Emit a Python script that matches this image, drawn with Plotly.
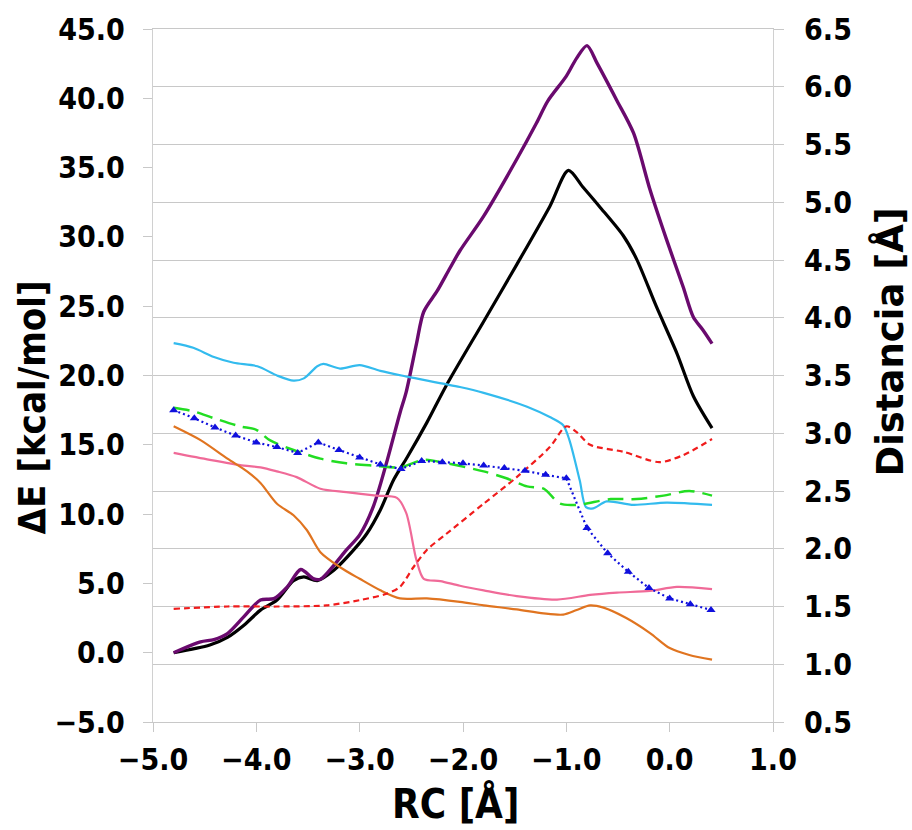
import plotly.graph_objects as go

# ---------------- data ----------------
# Energies (left axis, kcal/mol)
purple_x = [-4.8, -4.54, -4.41, -4.28, -4.12, -3.96, -3.83, -3.70, -3.57, -3.45, -3.38, -3.25, -3.13, -3.0,
            -2.87, -2.74, -2.61, -2.55, -2.45, -2.38, -2.25, -2.13, -2.03, -1.80, -1.48, -1.29, -1.18, -1.0,
            -0.90, -0.80, -0.70, -0.515, -0.35, -0.19, -0.03, 0.13, 0.23, 0.32, 0.41]
purple_e = [0, 0.78, 0.95, 1.38, 2.6, 3.8, 3.9, 4.75, 6.0, 5.35, 5.3, 6.3, 7.4, 8.5,
            10.5, 13.7, 17.3, 18.8, 22.3, 24.6, 26.1, 27.7, 29.0, 31.5, 35.6, 38.2, 39.8, 41.6,
            42.9, 43.8, 42.5, 39.9, 37.5, 33.4, 29.8, 26.4, 24.2, 23.3, 22.3]

black_x = [-4.8, -4.45, -4.28, -4.12, -3.96, -3.80, -3.64, -3.54, -3.41, -3.25, -3.06, -2.93, -2.80, -2.67,
           -2.54, -2.35, -2.16, -1.80, -1.48, -1.16, -0.98, -0.84, -0.68, -0.45, -0.32, -0.13, 0.07, 0.23, 0.41]
black_e = [0, 0.55, 1.1, 1.98, 3.07, 3.8, 5.2, 5.47, 5.2, 5.95, 7.4, 8.6, 10.3, 12.5,
           14.1, 16.6, 19.3, 23.9, 28.0, 32.2, 34.8, 33.6, 32.2, 30.1, 28.4, 25.0, 21.6, 18.5, 16.2]

# Distances (right axis, Angstrom)
cyan_x = [-4.8, -4.61, -4.41, -4.22, -3.99, -3.80, -3.64, -3.54, -3.41, -3.35, -3.19, -3.0, -2.80, -2.54,
          -2.03, -1.80, -1.38, -1.16, -1.03, -0.97, -0.87, -0.81, -0.74, -0.61, -0.35, -0.03, 0.41]
cyan_d = [3.78, 3.74, 3.66, 3.61, 3.58, 3.50, 3.455, 3.475, 3.58, 3.60, 3.56, 3.59, 3.54, 3.49,
          3.40, 3.35, 3.23, 3.14, 3.07, 2.94, 2.59, 2.36, 2.35, 2.41, 2.38, 2.40, 2.38]

green_x = [-4.8, -4.61, -4.41, -4.16, -4.0, -3.87, -3.64, -3.38, -3.13, -2.87, -2.61, -2.38, -2.16, -1.80,
           -1.58, -1.38, -1.22, -1.06, -0.90, -0.57, -0.32, -0.06, 0.19, 0.41]
green_d = [3.22, 3.19, 3.13, 3.06, 3.03, 2.94, 2.855, 2.78, 2.74, 2.72, 2.705, 2.77, 2.74, 2.67,
           2.61, 2.54, 2.52, 2.39, 2.38, 2.43, 2.43, 2.46, 2.50, 2.46]

blue_x = [-4.8, -4.6, -4.4, -4.2, -4.0, -3.8, -3.6, -3.4, -3.2, -3.0, -2.8, -2.6, -2.4, -2.2,
          -2.0, -1.8, -1.6, -1.4, -1.2, -1.0, -0.8, -0.6, -0.4, -0.2, 0.0, 0.2, 0.4]
blue_d = [3.20, 3.13, 3.05, 2.98, 2.92, 2.88, 2.83, 2.92, 2.855, 2.79, 2.73, 2.69, 2.76, 2.75,
          2.74, 2.72, 2.70, 2.675, 2.64, 2.61, 2.18, 1.96, 1.80, 1.66, 1.57, 1.52, 1.47]

red_x = [-4.8, -4.28, -3.8, -3.32, -3.0, -2.74, -2.61, -2.48, -2.35, -2.16, -1.80, -1.48, -1.16, -1.0,
         -0.90, -0.77, -0.45, -0.10, 0.13, 0.41]
red_d = [1.48, 1.50, 1.50, 1.51, 1.555, 1.61, 1.67, 1.84, 1.99, 2.13, 2.39, 2.62, 2.88, 3.06,
         3.01, 2.90, 2.84, 2.75, 2.81, 2.95]

pink_x = [-4.8, -4.45, -4.12, -3.96, -3.80, -3.61, -3.38, -3.13, -2.84, -2.64, -2.55, -2.45, -2.38, -2.22,
          -2.03, -1.80, -1.48, -1.09, -0.77, -0.51, -0.19, 0.07, 0.41]
pink_d = [2.83, 2.77, 2.72, 2.705, 2.67, 2.62, 2.52, 2.49, 2.46, 2.44, 2.31, 1.90, 1.74, 1.72,
          1.68, 1.64, 1.59, 1.56, 1.60, 1.62, 1.635, 1.67, 1.65]

orange_x = [-4.8, -4.54, -4.28, -4.09, -3.96, -3.80, -3.64, -3.51, -3.38, -3.19, -3.0, -2.80, -2.61, -2.35,
            -2.03, -1.80, -1.48, -1.22, -1.03, -0.90, -0.77, -0.64, -0.42, -0.19, 0.0, 0.19, 0.41]
orange_d = [3.06, 2.94, 2.78, 2.67, 2.57, 2.39, 2.29, 2.16, 1.97, 1.84, 1.74, 1.64, 1.57, 1.57,
            1.54, 1.51, 1.475, 1.44, 1.43, 1.47, 1.51, 1.49, 1.40, 1.27, 1.14, 1.08, 1.04]

x_title = "RC [Å]"
y_title = "ΔE [kcal/mol]"
y2_title = "Distancia [Å]"

# ---------------- figure ----------------
FONT = "Liberation Sans Narrow, Arial Narrow, DejaVu Sans Condensed, Liberation Sans, Arial, sans-serif"
WIDE_FONT = "DejaVu Sans, Verdana, Liberation Sans, Arial, sans-serif"
fig = go.Figure()

def add_line(x, y, color, width, dash="solid", axis="y2", shape="spline", marker=None):
    kw = dict(x=x, y=y, mode="lines", yaxis=axis, showlegend=False, hoverinfo="skip",
              line=dict(color=color, width=width, dash=dash, shape=shape, smoothing=0.8))
    if marker:
        kw["mode"] = "lines+markers"
        kw["marker"] = marker
    fig.add_trace(go.Scatter(**kw))

add_line(cyan_x, cyan_d, "#33bbee", 2.2)
add_line(pink_x, pink_d, "#f06a98", 2.2)
add_line(orange_x, orange_d, "#e07420", 2.2)
add_line(red_x, red_d, "#f01c1c", 2.2, dash="6px,4px")
add_line(green_x, green_d, "#22dd22", 2.5, dash="16px,8px")
add_line(blue_x, blue_d, "#1010dd", 2.2, dash="2px,3px", shape="linear",
         marker=dict(symbol="triangle-up", size=8, color="#1010dd"))
add_line(black_x, black_e, "#000000", 3.2, axis="y")
add_line(purple_x, purple_e, "#6a0a6e", 3.4, axis="y")

L, R, T, B = 152.7, 773.3, 29.3, 721.7
W, H = 912, 830
pw, ph = R - L, B - T

tickfont = dict(family=FONT, size=30, color="black", weight="bold")
titlefont = dict(family=FONT, size=40, color="black", weight="bold")

fig.update_layout(
    width=W, height=H,
    margin=dict(l=L, r=W - R, t=T, b=H - B, pad=0, autoexpand=False),
    paper_bgcolor="white", plot_bgcolor="white",
    xaxis=dict(range=[-5, 1], dtick=1, tick0=-5, tickformat=".1f", showgrid=False, zeroline=False,
               showline=True, mirror=True, linecolor="#c8c8c8", linewidth=1.2,
               ticks="outside", ticklen=9, tickcolor="#c8c8c8", tickfont=tickfont,
               ticklabelstandoff=2, automargin=False),
    yaxis=dict(range=[-5, 45], dtick=5, tick0=-5, tickformat=".1f", showgrid=False, zeroline=False,
               showline=True, linecolor="#d0d0d0", linewidth=1.2,
               ticks="outside", ticklen=9, tickcolor="#c8c8c8", tickfont=tickfont,
               ticklabelstandoff=12, automargin=False),
    yaxis2=dict(range=[0.5, 6.5], dtick=0.5, tick0=0.5, tickformat=".1f", overlaying="y", side="right",
                showgrid=True, gridcolor="#c8c8c8", gridwidth=1.2, zeroline=False,
                showline=True, linecolor="#d0d0d0", linewidth=1.2,
                ticks="outside", ticklen=10, tickcolor="#c8c8c8", tickfont=tickfont,
                ticklabelstandoff=14, automargin=False),
)

def px_to_paper(px, py):
    return (px - L) / pw, (B - py) / ph

ax, ay = px_to_paper(455, 803)
fig.add_annotation(text=x_title, x=ax, y=ay, xref="paper", yref="paper", showarrow=False,
                   xanchor="center", yanchor="middle", font=titlefont)
ax, ay = px_to_paper(32, 407)
fig.add_annotation(text=y_title, x=ax, y=ay, xref="paper", yref="paper", showarrow=False,
                   xanchor="center", yanchor="middle", textangle=-90,
                   font=dict(family=FONT, size=38, color="black", weight="bold"))
ax, ay = px_to_paper(890, 342)
fig.add_annotation(text=y2_title, x=ax, y=ay, xref="paper", yref="paper", showarrow=False,
                   xanchor="center", yanchor="middle", textangle=-90,
                   font=dict(family=WIDE_FONT, size=37, color="black", weight="bold"))

fig.write_html("out.html", config={"displayModeBar": False},
               post_script="document.body.style.margin='0';document.body.style.padding='0';"
                           "document.body.style.overflow='hidden';")
